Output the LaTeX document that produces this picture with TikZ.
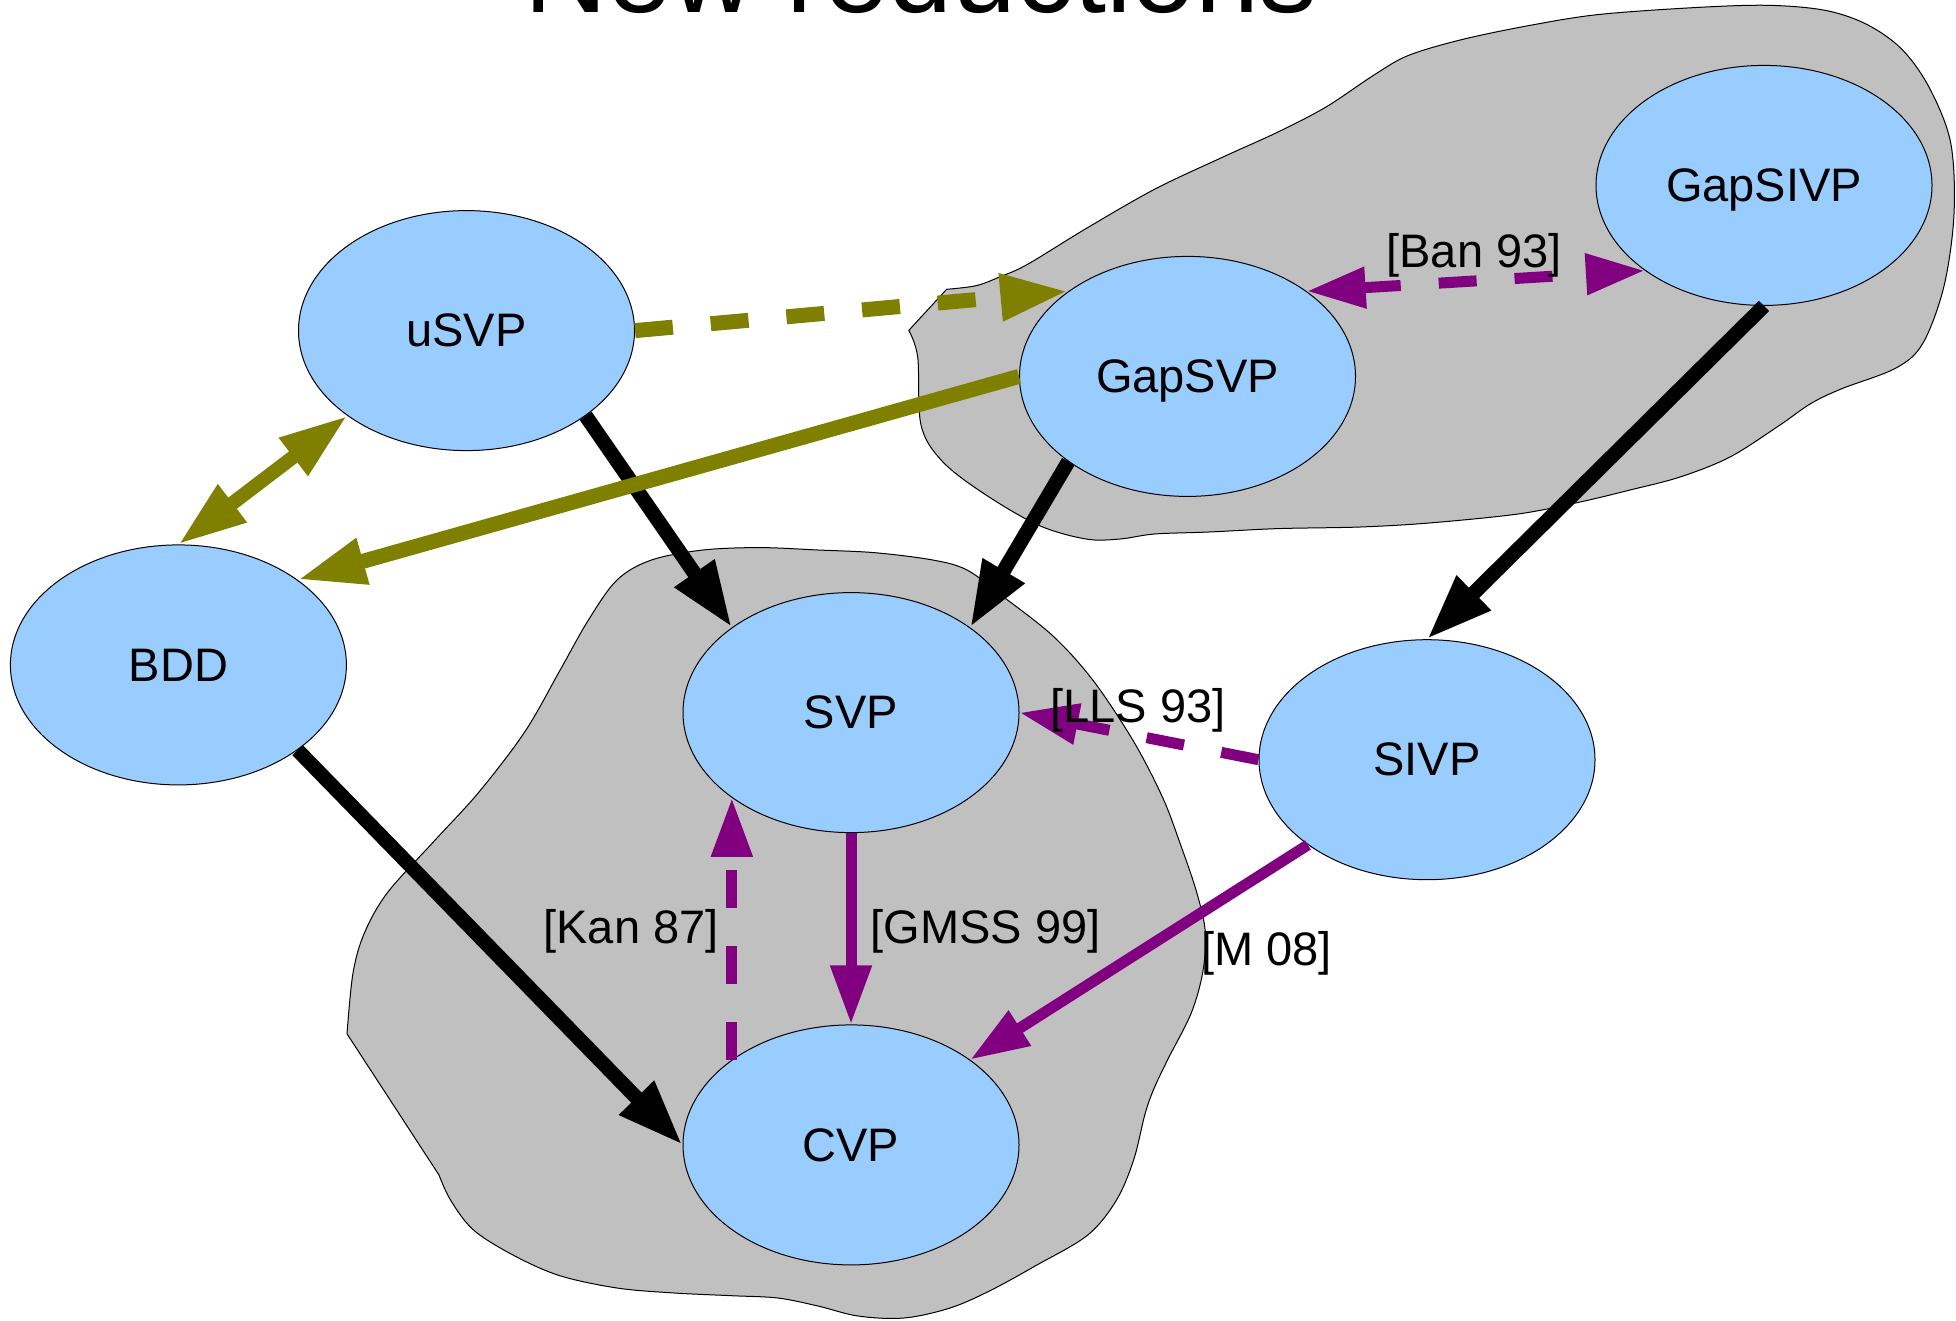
\documentclass[tikz,border=0pt]{standalone}
\usepackage{fontspec}
\setmainfont{Liberation Sans}
\usetikzlibrary{shapes.geometric,arrows.meta}
\definecolor{nodeblue}{HTML}{99CCFF}
\definecolor{olivec}{HTML}{808000}
\definecolor{purplec}{HTML}{800080}
\definecolor{blobgray}{HTML}{C0C0C0}
\begin{document}
\begin{tikzpicture}[x=1pt,y=-1pt,
  prob/.style={ellipse, draw=black, line width=1pt, fill=nodeblue, minimum width=336pt, minimum height=240pt, inner sep=0pt, text height=32.3pt, text depth=0pt, font=\fontsize{47}{56}\selectfont},
  blob/.style={fill=blobgray, draw=black, line width=1pt},
  blk/.style={line width=14.5pt, black, -{Triangle[length=66pt,width=45pt]}},
  olv/.style={line width=15pt, olivec, -{Triangle[length=68pt,width=44pt]}},
  olvboth/.style={line width=14pt, olivec, {Triangle[length=68pt,width=44pt]}-{Triangle[length=68pt,width=44pt]}},
  prp/.style={line width=11pt, purplec, -{Triangle[length=59pt,width=39pt]}},
  prpboth/.style={line width=11pt, purplec, {Triangle[length=59pt,width=39pt]}-{Triangle[length=59pt,width=39pt]}},
  dsh/.style={dash pattern=on 38pt off 38pt},
  lbl/.style={font=\fontsize{47}{56}\selectfont, inner sep=0pt},
]
\useasboundingbox (0,0) rectangle (1956,1320);
\node[font=\fontsize{115}{130}\selectfont, anchor=base, inner sep=0pt] (title) at (921,12.3) {New reductions};

% grey regions
\path[blob] (908.8,330.4) -- (946.6,289.3) -- plot[smooth, tension=0.55] coordinates {(946.6,289.3) (976,285.7) (1000,276.8) (1027.6,264.3) (1086,228.6) (1154.5,189.3) (1223,157) (1278,132) (1326,107) (1374,75) (1408.5,55.4) (1463,39.3) (1532,25) (1600.6,14.3) (1703.6,7.1) (1772,5.4) (1827,10.7) (1868,25) (1902.6,50) (1930,89) (1950.7,143) (1954,214) (1944,286) (1923,343) (1896,368) (1841,389) (1810,404) (1780,425) (1730,457) (1680,477) (1630,490) (1580,502) (1518,514) (1429,523) (1360,527) (1278,528.6) (1209,532) (1154.5,534) (1120,539) (1086,539) (1038,525) (983,493) (942,461) (921,425) (917.7,357) (908.8,330.4)} -- cycle;
\path[blob] (347,1033.8) -- plot[smooth, tension=0.55] coordinates {(347,1033.8) (353,973) (364.4,933) (387.4,892.7) (433.3,842) (479,792) (525,731.5) (559.6,671) (588,620.7) (617,580) (651.5,560) (703,550) (760.5,547.6) (818,550) (875,552.7) (932.8,560) (967,570) (1001.6,595.5) (1053,636) (1093.5,681) (1133.7,741.6) (1162.4,797) (1179.6,842) (1196.8,892.7) (1205.4,933) (1202.6,973) (1191,1013.6) (1168,1059) (1153.8,1089) (1145,1114) (1133.7,1159.7) (1116.5,1200) (1087.8,1235) (1036,1265.5) (990,1290.7) (950,1308) (904,1318) (858,1316) (818,1306) (777.8,1298) (731.8,1295.7) (674.4,1293) (617,1288) (559.6,1275.6) (513.7,1255.4) (473.5,1230) (450.5,1200) (439,1175)} -- cycle;

% problems
\node[prob] (usvp) at (466.5,330.6) {uSVP};
\node[prob] (gapsvp) at (1187.5,376.4) {GapSVP};
\node[prob] (gapsivp) at (1764,185.4) {GapSIVP};
\node[prob] (bdd) at (178.4,664.9) {BDD};
\node[prob] (svp) at (851,712.6) {SVP};
\node[prob] (sivp) at (1427,759.7) {SIVP};
\node[prob] (cvp) at (851,1144.9) {CVP};

% reductions
\draw[olv, dsh] (usvp.east) -- (gapsvp.north west);
\draw[prpboth, dsh] (gapsvp.north east) -- (gapsivp.south west);
\draw[blk] (gapsivp.south) -- (sivp.north);
\draw[blk] (gapsvp.south west) -- (svp.north east);
\draw[blk] (usvp.south east) -- (svp.north west);
\draw[olv] (gapsvp.west) -- (bdd.north east);
\draw[olvboth] (usvp.south west) -- (bdd.north);
\draw[blk] (bdd.south east) -- (cvp.west);
\draw[prp, dsh] (sivp.west) -- (svp.east);
\draw[prp] (svp.south) -- (cvp.north);
\draw[prp, dsh] (cvp.north west) -- (svp.south west);
\draw[prp] (sivp.south west) -- (cvp.north east);

% labels
\node[lbl] (lban) at (1474,255) {[Ban 93]};
\node[lbl] (llls) at (1138,710.5) {[LLS 93]};
\node[lbl] (lgmss) at (985.5,931.7) {[GMSS 99]};
\node[lbl] (lkan) at (631,931.7) {[Kan 87]};
\node[lbl] (lm) at (1266.7,953) {[M 08]};
\end{tikzpicture}
\end{document}
